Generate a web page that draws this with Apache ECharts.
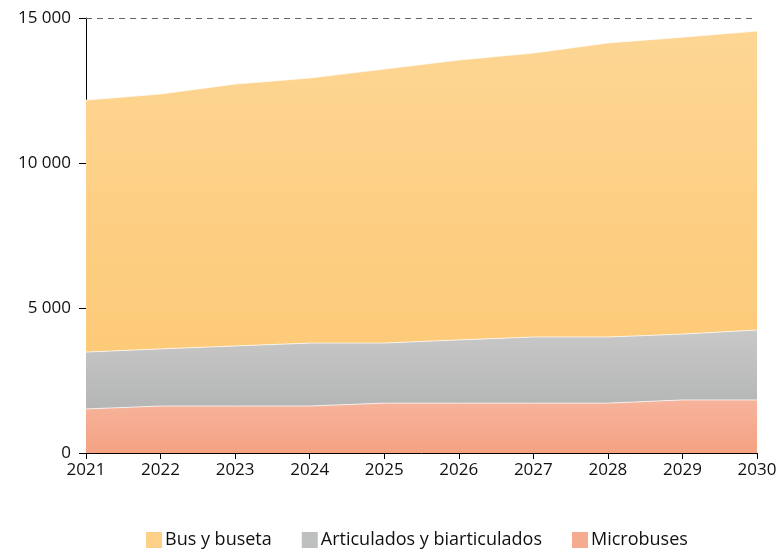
<!DOCTYPE html>
<html>
<head>
<meta charset="utf-8">
<script src="https://cdn.jsdelivr.net/npm/echarts@6/dist/echarts.min.js"></script>
<style>
  html, body { margin: 0; padding: 0; background: #fff; }
  #chart-container { width: 782px; height: 550px; }
</style>
</head>
<body>
<div id="chart-container"></div>
<script>
var years = ['2021', '2022', '2023', '2024', '2025', '2026', '2027', '2028', '2029', '2030'];
var microbuses = [1520, 1620, 1620, 1620, 1720, 1720, 1720, 1720, 1830, 1830];
var articulados = [1960, 1970, 2070, 2170, 2070, 2180, 2280, 2280, 2270, 2410];
var busBuseta = [8690, 8790, 9030, 9140, 9450, 9650, 9790, 10140, 10240, 10310];
var yTicks = [0, 5000, 10000, 15000];

var font = '"Open Sans", "Noto Sans", sans-serif';

function grad(top, bottom) {
  return new echarts.graphic.LinearGradient(0, 0, 0, 1, [
    { offset: 0, color: top },
    { offset: 1, color: bottom }
  ]);
}

function fmt(v) {
  return String(v).replace(/\B(?=(\d{3})+(?!\d))/g, ' ');
}

var dom = document.getElementById('chart-container');
var myChart = echarts.init(dom, null, { renderer: 'canvas' });

var option = {
  animation: false,
  grid: { left: 86, right: 25, top: 18, bottom: 97 },
  legend: {
    top: 526,
    left: 141,
    data: ['Bus y buseta', 'Articulados y biarticulados', 'Microbuses'],
    icon: 'rect',
    itemWidth: 16,
    itemHeight: 16,
    itemGap: 30,
    textStyle: { fontFamily: font, fontSize: 18, color: '#111', padding: [0, 0, 0, -2] }
  },
  xAxis: {
    type: 'category',
    data: years,
    boundaryGap: false,
    axisLine: { lineStyle: { color: '#000', width: 1 } },
    axisTick: { show: true, length: 6, lineStyle: { color: '#000' } },
    axisLabel: { fontFamily: font, fontSize: 17, color: '#111', margin: 9 }
  },
  yAxis: {
    type: 'value',
    min: 0,
    max: 15000,
    interval: 5000,
    axisLine: { show: true, lineStyle: { color: '#000', width: 1 } },
    axisTick: { show: true, length: 7, lineStyle: { color: '#000' } },
    splitLine: { show: false },
    axisLabel: {
      fontFamily: font, fontSize: 17, color: '#111', margin: 15,
      formatter: function (v) { return yTicks.indexOf(v) >= 0 ? fmt(v) : ''; }
    }
  },
  series: [
    {
      name: 'Microbuses',
      type: 'line',
      stack: 'total',
      data: microbuses,
      symbol: 'none',
      lineStyle: { width: 1, color: 'rgba(255,255,255,0.7)' },
      itemStyle: { color: '#f5ab8f' },
      areaStyle: { color: grad('#f6b49c', '#f4a282'), opacity: 1 }
    },
    {
      name: 'Articulados y biarticulados',
      type: 'line',
      stack: 'total',
      data: articulados,
      symbol: 'none',
      lineStyle: { width: 1, color: 'rgba(255,255,255,0.7)' },
      itemStyle: { color: '#bebfbf' },
      areaStyle: { color: grad('#c7c8c7', '#b4b5b5'), opacity: 1 }
    },
    {
      name: 'Bus y buseta',
      type: 'line',
      stack: 'total',
      data: busBuseta,
      symbol: 'none',
      lineStyle: { width: 1, color: 'rgba(255,255,255,0.7)' },
      itemStyle: { color: '#fdd088' },
      areaStyle: { color: grad('#fdd694', '#fdca78'), opacity: 1 },
      markLine: {
        silent: true,
        symbol: 'none',
        label: { show: false },
        lineStyle: { type: [6, 5], color: '#666', width: 1 },
        data: [{ yAxis: 15000 }]
      }
    }
  ]
};

myChart.setOption(option);
window.addEventListener('resize', myChart.resize);
</script>
</body>
</html>
